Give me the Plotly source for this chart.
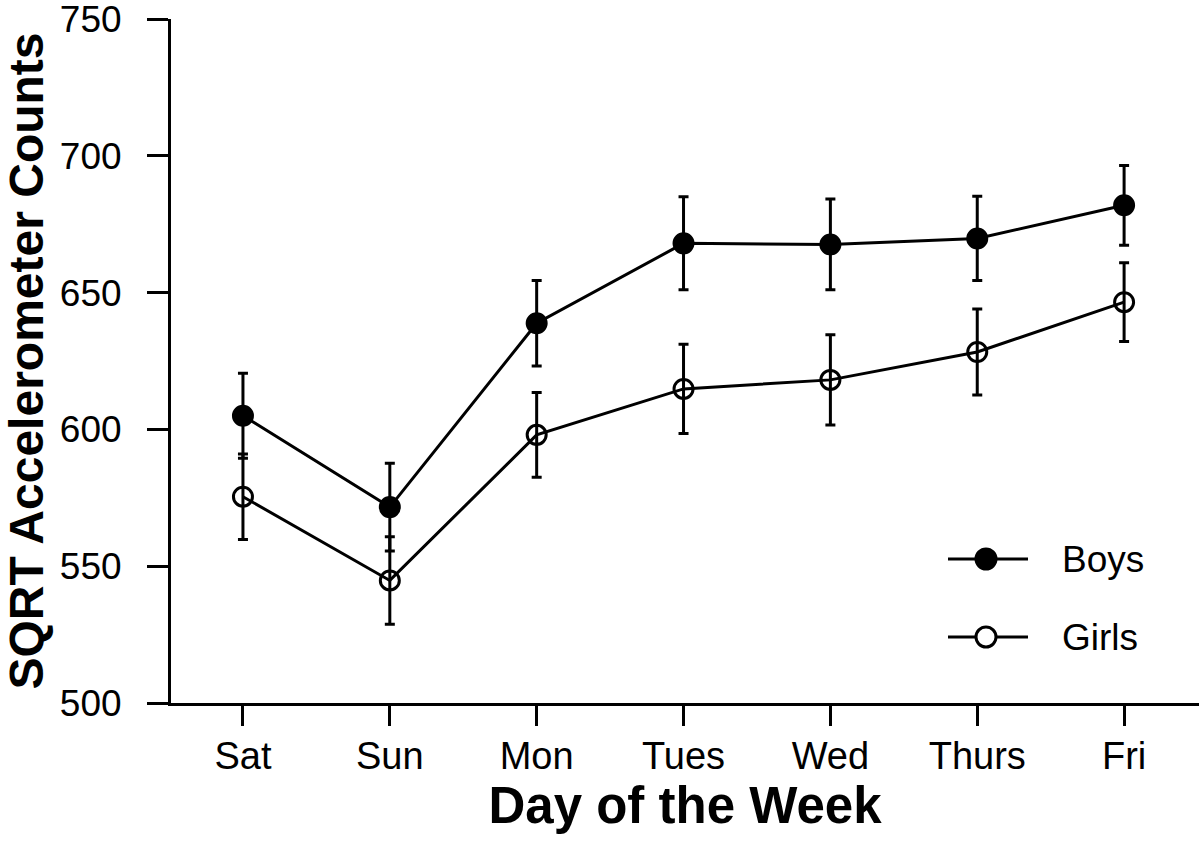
import plotly.graph_objects as go

days = ["Sat", "Sun", "Mon", "Tues", "Wed", "Thurs", "Fri"]
boys = [605.0, 571.6, 638.8, 668.0, 667.6, 669.8, 681.9]
boys_err = [15.5, 16.0, 15.6, 17.0, 16.6, 15.4, 14.6]
girls = [575.4, 544.8, 598.0, 614.8, 618.1, 628.3, 646.5]
girls_err = [15.6, 16.0, 15.5, 16.3, 16.5, 15.7, 14.4]
y_ticks = [500, 550, 600, 650, 700, 750]

FONT = "Liberation Sans, Arial, Helvetica, sans-serif"
W, H = 1200, 842
L, R, T, B = 171, 1, 19, 139

fig = go.Figure()
fig.add_trace(go.Scatter(
    x=list(range(len(days))), y=boys, mode="lines+markers", name="Boys",
    line=dict(color="black", width=3),
    marker=dict(symbol="circle", size=20, color="black", line=dict(color="black", width=2)),
    error_y=dict(type="data", array=boys_err, visible=True, color="black", thickness=3, width=5),
    showlegend=False, cliponaxis=False,
))
fig.add_trace(go.Scatter(
    x=list(range(len(days))), y=girls, mode="lines+markers", name="Girls",
    line=dict(color="black", width=3),
    marker=dict(symbol="circle-open", size=19, color="black", line=dict(color="black", width=3)),
    error_y=dict(type="data", array=girls_err, visible=True, color="black", thickness=3, width=5),
    showlegend=False, cliponaxis=False,
))

# manual legend (paper coordinates from pixel positions)
def px(xp):
    return (xp - L) / (W - L - R)

def py(yp):
    return 1 - (yp - T) / (H - T - B)

shapes = []
annotations = []
legend_items = [("Boys", 559), ("Girls", 637)]
for name, yp in legend_items:
    shapes.append(dict(type="line", xref="paper", yref="paper",
                       x0=px(948), x1=px(1028), y0=py(yp), y1=py(yp),
                       line=dict(color="black", width=3)))
    shapes.append(dict(type="circle", xref="paper", yref="paper",
                       xsizemode="pixel", ysizemode="pixel",
                       xanchor=px(986), yanchor=py(yp),
                       x0=-10, x1=10, y0=-10, y1=10,
                       fillcolor=("black" if name == "Boys" else "white"),
                       line=dict(color="black", width=3)))
    annotations.append(dict(text=name, xref="paper", yref="paper",
                            x=px(1060), y=py(yp), xanchor="left", yanchor="middle",
                            showarrow=False, font=dict(family=FONT, size=37, color="black")))

fig.update_layout(
    width=W, height=H,
    margin=dict(l=L, r=R, t=T, b=B, pad=0, autoexpand=False),
    paper_bgcolor="white", plot_bgcolor="white",
    font=dict(family=FONT, color="black"),
    shapes=shapes, annotations=annotations,
    showlegend=False,
)
fig.update_xaxes(
    range=[-0.49, 6.51], tickmode="array", tickvals=list(range(len(days))), ticktext=days,
    showgrid=False, zeroline=False, showline=True, linecolor="black", linewidth=3,
    ticks="outside", ticklen=20, tickwidth=3, tickcolor="black",
    tickfont=dict(family=FONT, size=38, color="black"),
    ticklabelstandoff=-3,
    automargin=False, ticklabeloverflow="allow",
    title=dict(text="<b>Day of the Week</b>", font=dict(family=FONT, size=51, color="black"), standoff=10),
)
fig.update_yaxes(
    range=[500, 750], tickmode="array", tickvals=y_ticks,
    showgrid=False, zeroline=False, showline=True, linecolor="black", linewidth=3,
    ticks="outside", ticklen=21, tickwidth=3, tickcolor="black",
    tickfont=dict(family=FONT, size=37, color="black"),
    ticklabelstandoff=18, automargin=False, ticklabeloverflow="allow",
    title=dict(text="<b>SQRT Accelerometer Counts</b>", font=dict(family=FONT, size=48, color="black"), standoff=6),
)

fig.write_html(
    "out.html",
    config={"displayModeBar": False},
    post_script="document.body.style.margin='0';document.body.style.padding='0';document.body.style.overflow='hidden';",
)
